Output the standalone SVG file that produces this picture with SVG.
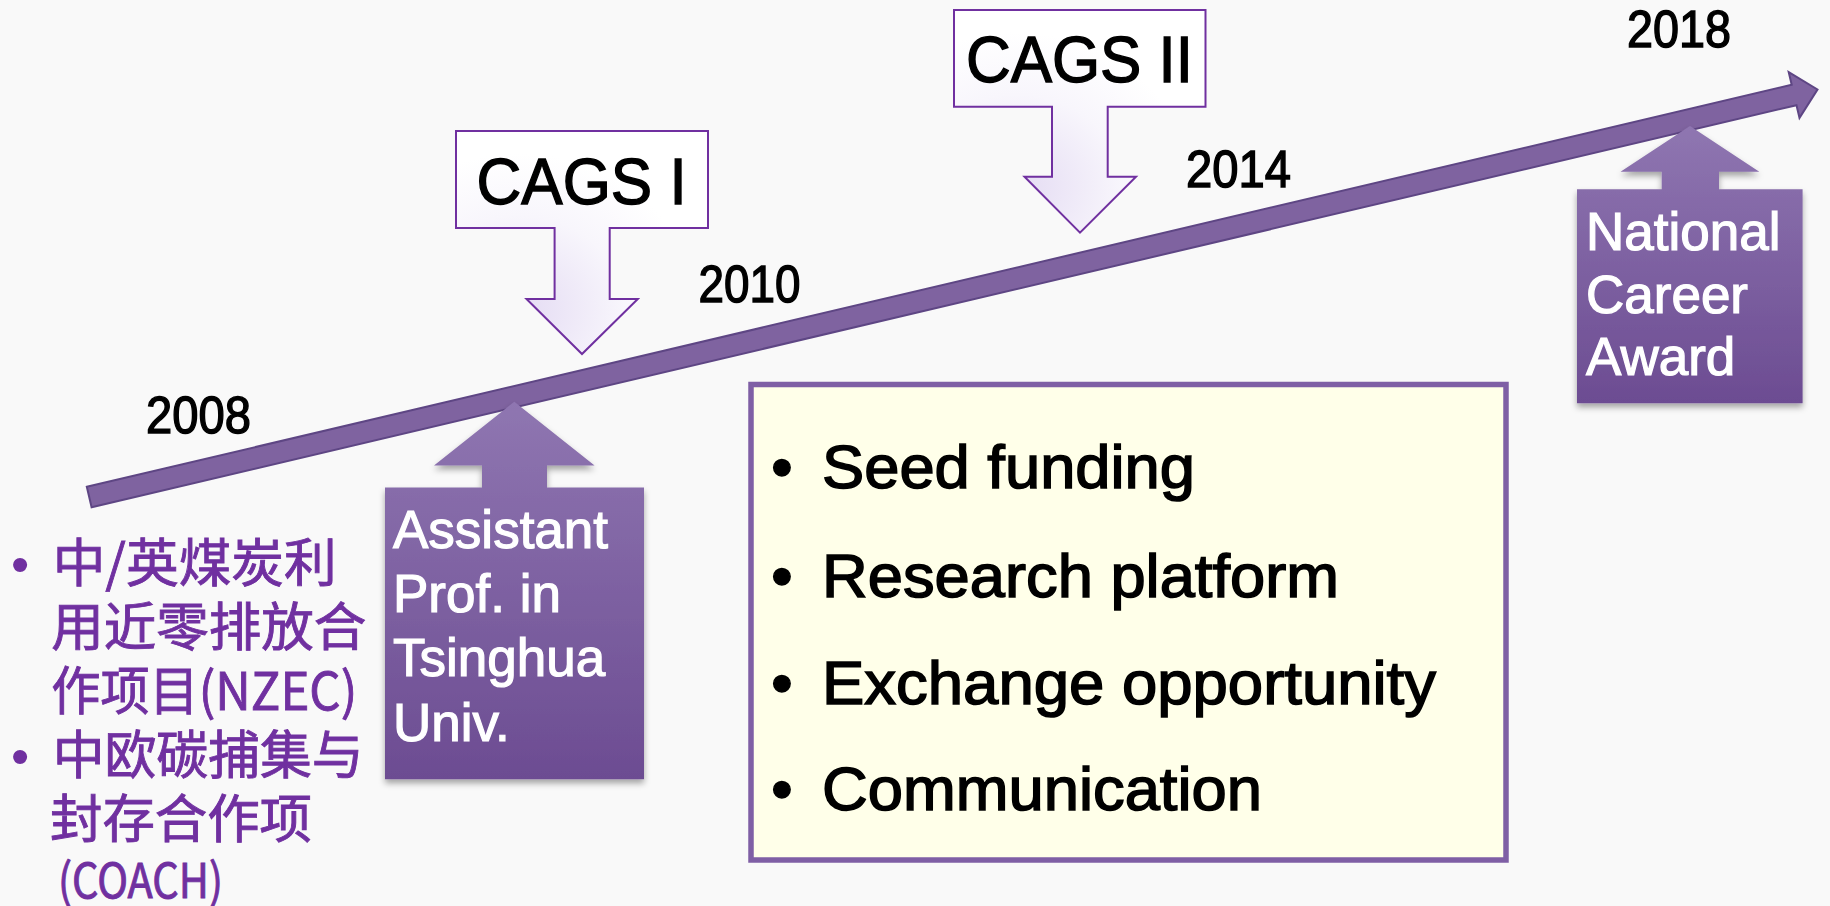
<svg xmlns="http://www.w3.org/2000/svg" width="1830" height="906" viewBox="0 0 1830 906">
<style>
.year{font-family:"Liberation Sans",Arial,sans-serif;font-size:52px;fill:#000;stroke:#000;stroke-width:1.4}
.cags{font-family:"Liberation Sans",Arial,sans-serif;font-size:65px;fill:#000;stroke:#000;stroke-width:1.4}
.wt{font-family:"Liberation Sans",Arial,sans-serif;font-size:53px;fill:#fff;stroke:#fff;stroke-width:1.2}
.bl{font-family:"Liberation Sans",Arial,sans-serif;font-size:61px;fill:#000;stroke:#000;stroke-width:1.5}
.cn{font-family:"Noto Sans CJK SC","Noto Sans",sans-serif;font-size:52px;fill:#7030A0;stroke:#7030A0;stroke-width:0.9}
.cnb{font-family:"Liberation Sans",Arial,sans-serif;font-size:52px;fill:#7030A0}
.down{stroke:#7030A0;stroke-width:2;fill:url(#gWhite)}
.up{fill:url(#gPurple);filter:url(#sh)}
</style>
<defs>
<radialGradient id="gWhite" cx="0.25" cy="0.8" r="0.7">
<stop offset="0" stop-color="#E4DBF3"/>
<stop offset="0.6" stop-color="#F8F6FC"/>
<stop offset="1" stop-color="#FFFFFF"/>
</radialGradient>
<linearGradient id="gPurple" x1="0" y1="0" x2="0" y2="1">
<stop offset="0" stop-color="#8F76B1"/>
<stop offset="1" stop-color="#6C4C92"/>
</linearGradient>
<filter id="sh" x="-10%" y="-10%" width="120%" height="125%">
<feDropShadow dx="0" dy="4" stdDeviation="3" flood-color="#000" flood-opacity="0.35"/>
</filter>
</defs>
<rect width="1830" height="906" fill="#F9F9F9"/>

<g id="connectors">
<polygon id="timeline" points="86.8,486.8 1791.7,84.8 1788.7,72.1 1817.5,89.5 1799.5,117.9 1796.5,105.2 91.6,507.2" fill="#7F63A0" stroke="#5E4684" stroke-width="2" stroke-linejoin="miter"/>
</g>

<g id="years">
<text class="year" x="146" y="433" textLength="105" lengthAdjust="spacingAndGlyphs">2008</text>
<text class="year" x="698.5" y="302" textLength="102" lengthAdjust="spacingAndGlyphs">2010</text>
<text class="year" x="1186" y="187" textLength="105" lengthAdjust="spacingAndGlyphs">2014</text>
<text class="year" x="1627" y="47" textLength="104" lengthAdjust="spacingAndGlyphs">2018</text>
</g>

<g id="cags1">
<path class="down" d="M456,131 H708 V228 H609.7 V299 H637.8 L582,354 L526.5,299 H554.6 V228 H456 Z"/>
<text class="cags" x="581.6" y="204" text-anchor="middle" textLength="210" lengthAdjust="spacingAndGlyphs">CAGS I</text>
</g>

<g id="cags2">
<path class="down" d="M954,10 H1205.5 V106.7 H1107.7 V176.7 H1136 L1080,232.7 L1024.5,176.7 H1052 V106.7 H954 Z"/>
<text class="cags" x="1079.5" y="82" text-anchor="middle" textLength="227" lengthAdjust="spacingAndGlyphs">CAGS II</text>
</g>

<g id="assistant">
<path class="up" d="M385,487.4 H482 V465.6 H434 L514.3,401.8 L594.6,465.6 H547 V487.4 H644 V779.3 H385 Z"/>
<text class="wt" x="393" y="548">Assistant</text>
<text class="wt" x="393" y="612">Prof. in</text>
<text class="wt" x="393" y="676">Tsinghua</text>
<text class="wt" x="393" y="741">Univ.</text>
</g>

<g id="award">
<path class="up" d="M1577,189.3 H1661.7 V171.7 H1620.5 L1690,126 L1759.3,171.7 H1719 V189.3 H1802.6 V403.3 H1577 Z"/>
<text class="wt" x="1586" y="250">National</text>
<text class="wt" x="1586" y="313">Career</text>
<text class="wt" x="1586" y="375">Award</text>
</g>

<g id="benefits">
<rect x="751" y="384.5" width="755" height="475.5" fill="#FFFFE9" stroke="#7F5FA5" stroke-width="5.5"/>
<text class="bl" x="782" y="488" text-anchor="middle">•</text>
<text class="bl" x="822" y="488" textLength="373" lengthAdjust="spacingAndGlyphs">Seed funding</text>
<text class="bl" x="782" y="597" text-anchor="middle">•</text>
<text class="bl" x="822" y="597" textLength="517" lengthAdjust="spacingAndGlyphs">Research platform</text>
<text class="bl" x="782" y="703.5" text-anchor="middle">•</text>
<text class="bl" x="822" y="703.5" textLength="614" lengthAdjust="spacingAndGlyphs">Exchange opportunity</text>
<text class="bl" x="782" y="810" text-anchor="middle">•</text>
<text class="bl" x="822" y="810" textLength="440" lengthAdjust="spacingAndGlyphs">Communication</text>
</g>

<g id="projects">
<text class="cnb" x="20" y="582" text-anchor="middle">•</text>
<text class="cn" x="52.7" y="582" textLength="284" lengthAdjust="spacingAndGlyphs">中/英煤炭利</text>
<text class="cn" x="51.3" y="646" textLength="315" lengthAdjust="spacingAndGlyphs">用近零排放合</text>
<text class="cn" x="51.3" y="710" textLength="306" lengthAdjust="spacingAndGlyphs">作项目(NZEC)</text>
<text class="cnb" x="20" y="774" text-anchor="middle">•</text>
<text class="cn" x="52.7" y="774" textLength="311" lengthAdjust="spacingAndGlyphs">中欧碳捕集与</text>
<text class="cn" x="50" y="838" textLength="262" lengthAdjust="spacingAndGlyphs">封存合作项</text>
<text class="cn" x="58" y="898" style="font-size:48px" textLength="165" lengthAdjust="spacingAndGlyphs">(COACH)</text>
</g>
</svg>
